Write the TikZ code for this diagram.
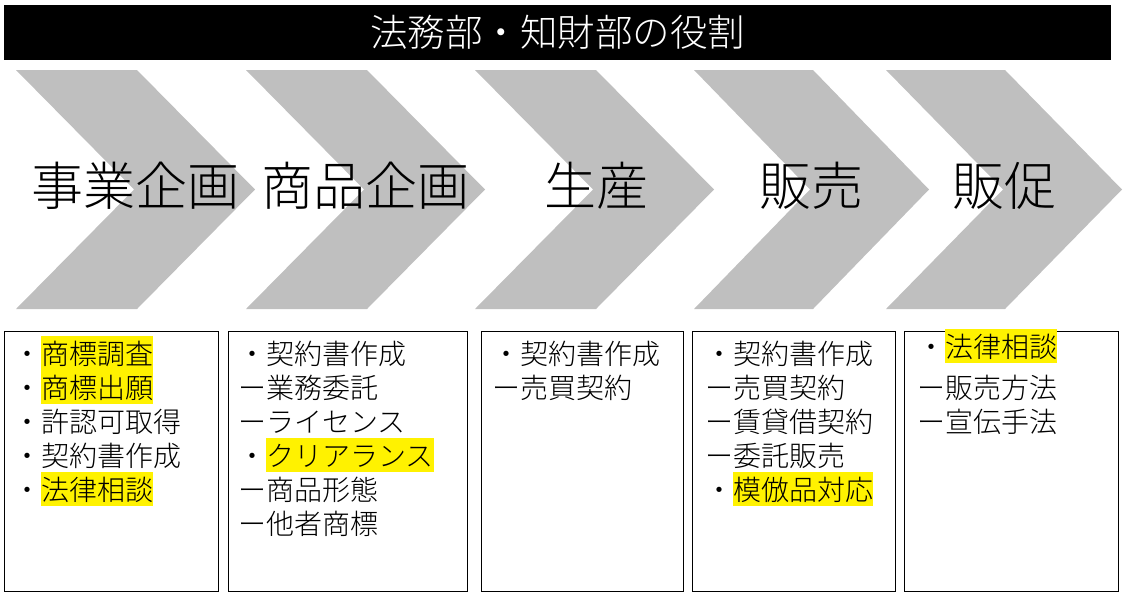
\documentclass[tikz,border=0pt]{standalone}
\usepackage{fontspec}
\setmainfont{Noto Sans CJK JP}[UprightFont=* Light]
\usepackage{xcolor}
\usepackage{tikz}

\definecolor{chevgray}{HTML}{BFBFBF}
\newcommand\mrk[1]{{\setlength\fboxsep{0pt}\colorbox{yellow}{\rule[-0.23em]{0pt}{1.22em}#1}}}

\tikzset{
  chev/.style={fill=chevgray, draw=none},
  stage/.style={inner sep=0pt, font=\fontsize{52}{60}\selectfont},
  box/.style={draw, line width=1pt, anchor=north west, minimum height=260, inner sep=0pt},
  item/.style={anchor=base west, inner sep=0pt, font=\fontsize{28}{34}\selectfont},
}

\begin{document}
\begin{tikzpicture}[x=1pt,y=-1pt]
\useasboundingbox (0,0) rectangle (1131,598);

\node[fill=black, text=white, minimum width=1107, minimum height=55, inner sep=0pt,
      font=\fontsize{37.5}{40}\selectfont] (title) at (557.5,32.5) {法務部・知財部の役割};

% chevrons
\fill[chev] (16,70) -- ++(121,0) -- ++(118,119.5) -- ++(-118,119.5) -- ++(-121,0) -- ++(118,-119.5) -- cycle;
\fill[chev] (246,70) -- ++(121,0) -- ++(118,119.5) -- ++(-118,119.5) -- ++(-121,0) -- ++(118,-119.5) -- cycle;
\fill[chev] (475,70) -- ++(121,0) -- ++(118,119.5) -- ++(-118,119.5) -- ++(-121,0) -- ++(118,-119.5) -- cycle;
\fill[chev] (694,70) -- ++(119,0) -- ++(116,119.5) -- ++(-116,119.5) -- ++(-119,0) -- ++(116,-119.5) -- cycle;
\fill[chev] (886,70) -- ++(119,0) -- ++(117,119.5) -- ++(-117,119.5) -- ++(-119,0) -- ++(117,-119.5) -- cycle;

\node[stage] (jigyo) at (135,186) {事業企画};
\node[stage] (shohin) at (365,186) {商品企画};
\node[stage] (seisan) at (596,186) {生産};
\node[stage] (hanbai) at (811,186) {販売};
\node[stage] (hansoku) at (1004,186) {販促};

% boxes
\node[box, minimum width=214] (b1) at (4,331) {};
\node[box, minimum width=239] (b2) at (228,331) {};
\node[box, minimum width=202] (b3) at (481,331) {};
\node[box, minimum width=203] (b4) at (692,331) {};
\node[box, minimum width=214] (b5) at (904,331) {};

\node[item] (b1a) at (13,364) {・\mrk{商標調査}};
\node[item] (b1b) at (13,398) {・\mrk{商標出願}};
\node[item] (b1c) at (13,432) {・許認可取得};
\node[item] (b1d) at (13,466) {・契約書作成};
\node[item] (b1e) at (13,500) {・\mrk{法律相談}};

\node[item] (b2a) at (238,364) {・契約書作成};
\node[item] (b2b) at (238,398) {ー業務委託};
\node[item] (b2c) at (238,432) {ーライセンス};
\node[item] (b2d) at (238,466) {・\mrk{クリアランス}};
\node[item] (b2e) at (238,500) {ー商品形態};
\node[item] (b2f) at (238,534) {ー他者商標};

\node[item] (b3a) at (492,364) {・契約書作成};
\node[item] (b3b) at (492,398) {ー売買契約};

\node[item] (b4a) at (705,364) {・契約書作成};
\node[item] (b4b) at (705,398) {ー売買契約};
\node[item] (b4c) at (705,432) {ー賃貸借契約};
\node[item] (b4d) at (705,466) {ー委託販売};
\node[item] (b4e) at (705,500) {・\mrk{模倣品対応}};

\node[item] (b5a) at (917,357) {・\mrk{法律相談}};
\node[item] (b5b) at (917,398) {ー販売方法};
\node[item] (b5c) at (917,432) {ー宣伝手法};
\end{tikzpicture}
\end{document}
